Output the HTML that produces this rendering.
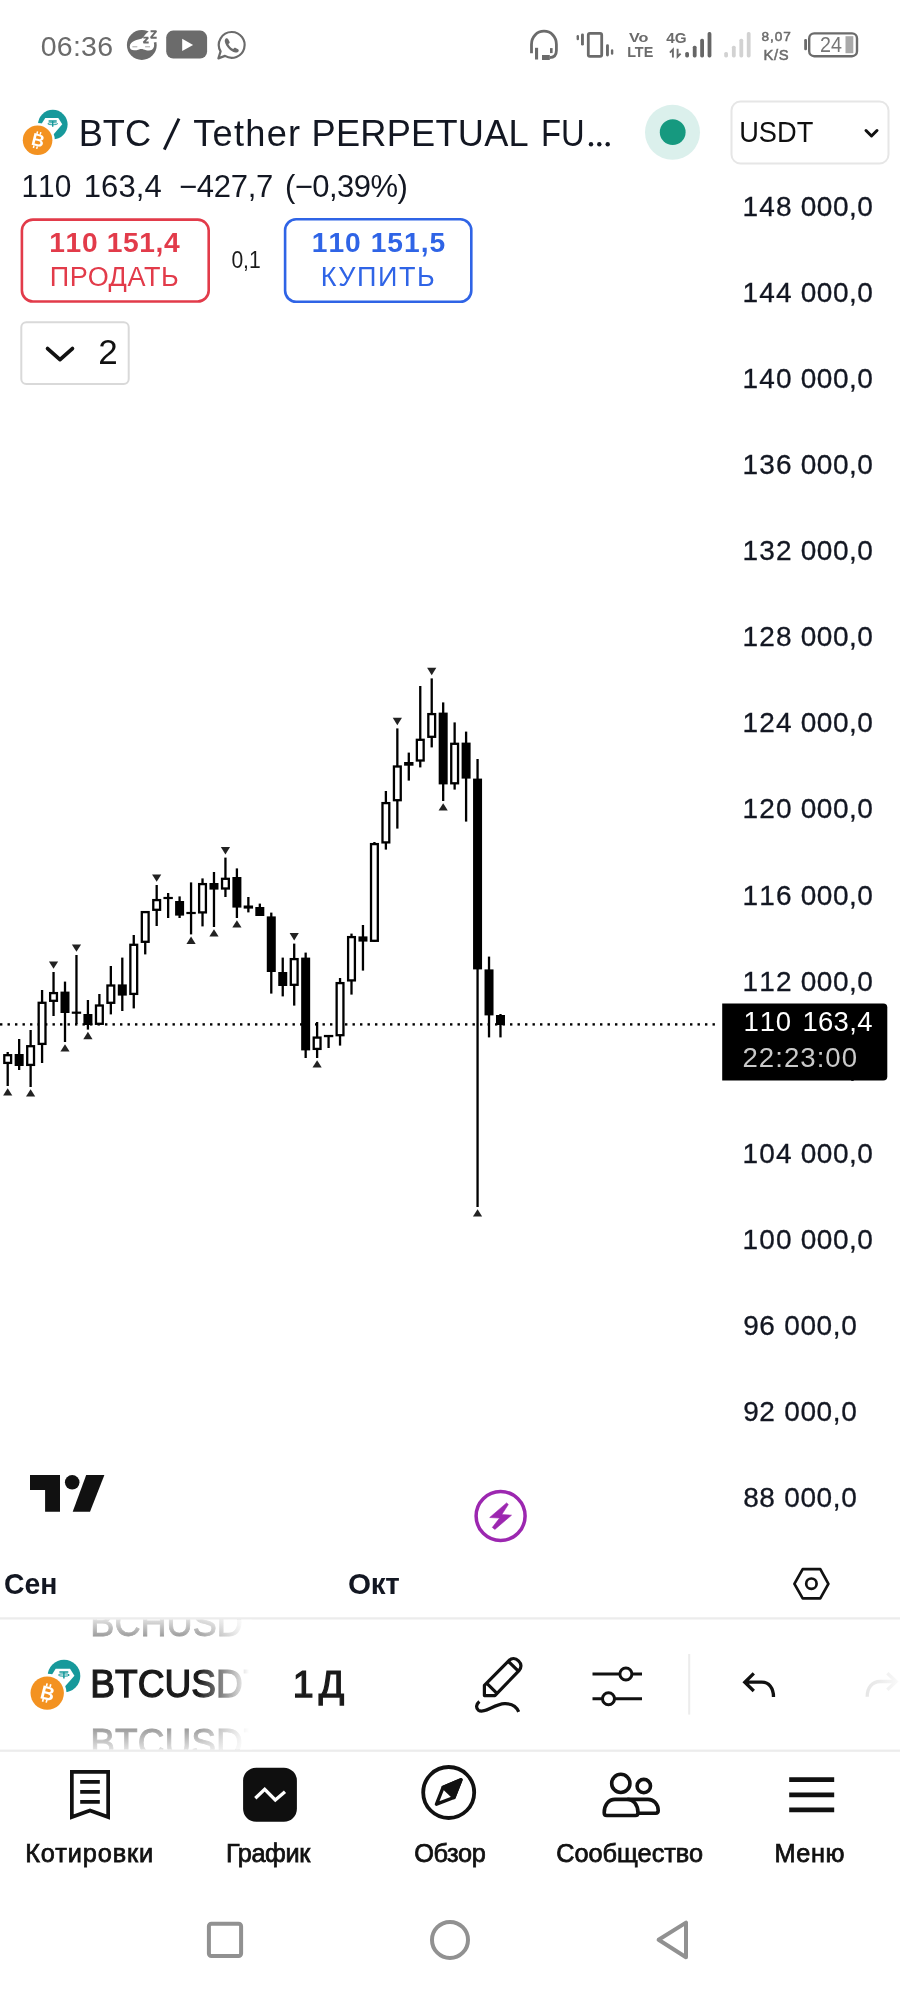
<!DOCTYPE html>
<html lang="ru"><head><meta charset="utf-8"><title>BTC / Tether PERPETUAL FUTURES</title>
<style>
html,body{margin:0;padding:0;background:#fff;}
body{width:900px;height:2000px;overflow:hidden;font-family:"Liberation Sans",sans-serif;}
svg{display:block;will-change:transform;font-family:"Liberation Sans",sans-serif;}
text{white-space:pre;}
</style></head><body>
<svg width="900" height="2000" viewBox="0 0 900 2000">
<rect x="0" y="0" width="900" height="2000" fill="#ffffff"/>
<text x="40.70" y="55.80" font-size="28.50" font-weight="400" fill="#6b6b6b" letter-spacing="0.258" style="font-kerning:none">06:36</text>
<g id="status-icons"></g>
<path d="M164.3 149.6 L179.0 118.6" stroke="#131722" stroke-width="3" fill="none"/>
<text x="78.70" y="145.70" font-size="36.20" font-weight="400" fill="#131722" letter-spacing="0.029">BTC</text>
<text x="193.30" y="145.70" font-size="36.20" font-weight="400" fill="#131722" letter-spacing="1.235">Tether</text>
<text x="311.50" y="145.70" font-size="36.20" font-weight="400" fill="#131722" letter-spacing="0.256">PERPETUAL</text>
<text x="540.99" y="145.70" font-size="36.20" font-weight="400" fill="#131722" textLength="43.64" lengthAdjust="spacingAndGlyphs">FU</text>
<g fill="#131722"><circle cx="591" cy="144.2" r="2.2"/><circle cx="599.3" cy="144.2" r="2.2"/><circle cx="607.7" cy="144.2" r="2.2"/></g>
<text x="21.48" y="197.00" font-size="31.00" font-weight="400" fill="#131722" textLength="49.76" lengthAdjust="spacingAndGlyphs" style="font-kerning:none">110</text>
<text x="83.70" y="197.00" font-size="31.00" font-weight="400" fill="#131722" letter-spacing="0.116" style="font-kerning:none">163,4</text>
<text x="179.00" y="197.00" font-size="31.00" font-weight="400" fill="#131722" letter-spacing="-0.288" style="font-kerning:none">−427,7</text>
<text x="285.00" y="197.00" font-size="31.00" font-weight="400" fill="#131722" letter-spacing="-0.561" style="font-kerning:none">(−0,39%)</text>
<circle cx="672.5" cy="132.3" r="27.5" fill="#dbf0ec"/>
<circle cx="672.7" cy="132.2" r="12.9" fill="#16997f"/>
<rect x="731.5" y="101.5" width="157" height="62" rx="9" fill="#fff" stroke="#e6e6e6" stroke-width="2"/>
<text x="739.19" y="141.60" font-size="30.00" font-weight="400" fill="#0f0f0f" textLength="74.11" lengthAdjust="spacingAndGlyphs">USDT</text>
<path d="M866 130.5 L871.5 136 L877 130.5" fill="none" stroke="#111" stroke-width="3" stroke-linecap="round" stroke-linejoin="round"/>
<rect x="21.9" y="219.6" width="186.8" height="81.9" rx="11" fill="#fff" stroke="#e23b4a" stroke-width="2.6"/>
<text x="49.30" y="252.20" font-size="28.20" font-weight="700" fill="#e23b4a" letter-spacing="0.622" style="font-kerning:none">110 151,4</text>
<text x="49.70" y="286.10" font-size="27.00" font-weight="400" fill="#e23b4a" letter-spacing="0.565">ПРОДАТЬ</text>
<text x="231.40" y="268.20" font-size="23.00" font-weight="400" fill="#1a1a1a" textLength="29.33" lengthAdjust="spacingAndGlyphs" style="font-kerning:none">0,1</text>
<rect x="285.1" y="219.3" width="186.2" height="82.4" rx="11" fill="#fff" stroke="#2f64e6" stroke-width="2.6"/>
<text x="311.70" y="252.30" font-size="28.20" font-weight="700" fill="#2f64e6" letter-spacing="1.022" style="font-kerning:none">110 151,5</text>
<text x="320.70" y="285.90" font-size="27.00" font-weight="400" fill="#2f64e6" letter-spacing="1.562">КУПИТЬ</text>
<rect x="21.3" y="322.3" width="107.4" height="61.7" rx="5" fill="#fff" stroke="#d9d9d9" stroke-width="2"/>
<path d="M47.6 348.6 L60 359.6 L72.4 348.6" fill="none" stroke="#111" stroke-width="3.8" stroke-linecap="round" stroke-linejoin="round"/>
<text x="98.20" y="364.20" font-size="35.00" font-weight="400" fill="#111" style="font-kerning:none">2</text>
<text x="742.40" y="215.95" font-size="28.00" font-weight="400" fill="#131722" letter-spacing="1.278" stroke="#131722" stroke-width="0.3" style="font-kerning:none">148</text>
<text x="800.80" y="215.95" font-size="28.00" font-weight="400" fill="#131722" letter-spacing="0.476" stroke="#131722" stroke-width="0.3" style="font-kerning:none">000,0</text>
<text x="742.40" y="302.02" font-size="28.00" font-weight="400" fill="#131722" letter-spacing="1.278" stroke="#131722" stroke-width="0.3" style="font-kerning:none">144</text>
<text x="800.80" y="302.02" font-size="28.00" font-weight="400" fill="#131722" letter-spacing="0.476" stroke="#131722" stroke-width="0.3" style="font-kerning:none">000,0</text>
<text x="742.40" y="388.09" font-size="28.00" font-weight="400" fill="#131722" letter-spacing="1.278" stroke="#131722" stroke-width="0.3" style="font-kerning:none">140</text>
<text x="800.80" y="388.09" font-size="28.00" font-weight="400" fill="#131722" letter-spacing="0.476" stroke="#131722" stroke-width="0.3" style="font-kerning:none">000,0</text>
<text x="742.40" y="474.16" font-size="28.00" font-weight="400" fill="#131722" letter-spacing="1.278" stroke="#131722" stroke-width="0.3" style="font-kerning:none">136</text>
<text x="800.80" y="474.16" font-size="28.00" font-weight="400" fill="#131722" letter-spacing="0.476" stroke="#131722" stroke-width="0.3" style="font-kerning:none">000,0</text>
<text x="742.40" y="560.23" font-size="28.00" font-weight="400" fill="#131722" letter-spacing="1.278" stroke="#131722" stroke-width="0.3" style="font-kerning:none">132</text>
<text x="800.80" y="560.23" font-size="28.00" font-weight="400" fill="#131722" letter-spacing="0.476" stroke="#131722" stroke-width="0.3" style="font-kerning:none">000,0</text>
<text x="742.40" y="646.30" font-size="28.00" font-weight="400" fill="#131722" letter-spacing="1.278" stroke="#131722" stroke-width="0.3" style="font-kerning:none">128</text>
<text x="800.80" y="646.30" font-size="28.00" font-weight="400" fill="#131722" letter-spacing="0.476" stroke="#131722" stroke-width="0.3" style="font-kerning:none">000,0</text>
<text x="742.40" y="732.37" font-size="28.00" font-weight="400" fill="#131722" letter-spacing="1.278" stroke="#131722" stroke-width="0.3" style="font-kerning:none">124</text>
<text x="800.80" y="732.37" font-size="28.00" font-weight="400" fill="#131722" letter-spacing="0.476" stroke="#131722" stroke-width="0.3" style="font-kerning:none">000,0</text>
<text x="742.40" y="818.44" font-size="28.00" font-weight="400" fill="#131722" letter-spacing="1.278" stroke="#131722" stroke-width="0.3" style="font-kerning:none">120</text>
<text x="800.80" y="818.44" font-size="28.00" font-weight="400" fill="#131722" letter-spacing="0.476" stroke="#131722" stroke-width="0.3" style="font-kerning:none">000,0</text>
<text x="742.40" y="904.51" font-size="28.00" font-weight="400" fill="#131722" letter-spacing="1.278" stroke="#131722" stroke-width="0.3" style="font-kerning:none">116</text>
<text x="800.80" y="904.51" font-size="28.00" font-weight="400" fill="#131722" letter-spacing="0.476" stroke="#131722" stroke-width="0.3" style="font-kerning:none">000,0</text>
<text x="742.40" y="990.58" font-size="28.00" font-weight="400" fill="#131722" letter-spacing="1.278" stroke="#131722" stroke-width="0.3" style="font-kerning:none">112</text>
<text x="800.80" y="990.58" font-size="28.00" font-weight="400" fill="#131722" letter-spacing="0.476" stroke="#131722" stroke-width="0.3" style="font-kerning:none">000,0</text>
<text x="742.40" y="1076.65" font-size="28.00" font-weight="400" fill="#131722" letter-spacing="1.278" stroke="#131722" stroke-width="0.3" style="font-kerning:none">108</text>
<text x="800.80" y="1076.65" font-size="28.00" font-weight="400" fill="#131722" letter-spacing="0.476" stroke="#131722" stroke-width="0.3" style="font-kerning:none">000,0</text>
<text x="742.40" y="1162.72" font-size="28.00" font-weight="400" fill="#131722" letter-spacing="1.278" stroke="#131722" stroke-width="0.3" style="font-kerning:none">104</text>
<text x="800.80" y="1162.72" font-size="28.00" font-weight="400" fill="#131722" letter-spacing="0.476" stroke="#131722" stroke-width="0.3" style="font-kerning:none">000,0</text>
<text x="742.40" y="1248.79" font-size="28.00" font-weight="400" fill="#131722" letter-spacing="1.278" stroke="#131722" stroke-width="0.3" style="font-kerning:none">100</text>
<text x="800.80" y="1248.79" font-size="28.00" font-weight="400" fill="#131722" letter-spacing="0.476" stroke="#131722" stroke-width="0.3" style="font-kerning:none">000,0</text>
<text x="743.20" y="1334.86" font-size="28.00" font-weight="400" fill="#131722" letter-spacing="0.428" stroke="#131722" stroke-width="0.3" style="font-kerning:none">96</text>
<text x="784.20" y="1334.86" font-size="28.00" font-weight="400" fill="#131722" letter-spacing="0.626" stroke="#131722" stroke-width="0.3" style="font-kerning:none">000,0</text>
<text x="743.20" y="1420.93" font-size="28.00" font-weight="400" fill="#131722" letter-spacing="0.428" stroke="#131722" stroke-width="0.3" style="font-kerning:none">92</text>
<text x="784.20" y="1420.93" font-size="28.00" font-weight="400" fill="#131722" letter-spacing="0.626" stroke="#131722" stroke-width="0.3" style="font-kerning:none">000,0</text>
<text x="743.20" y="1507.00" font-size="28.00" font-weight="400" fill="#131722" letter-spacing="0.428" stroke="#131722" stroke-width="0.3" style="font-kerning:none">88</text>
<text x="784.20" y="1507.00" font-size="28.00" font-weight="400" fill="#131722" letter-spacing="0.626" stroke="#131722" stroke-width="0.3" style="font-kerning:none">000,0</text>
<g fill="#000"><rect x="0.0" y="1023.2" width="2.4" height="2.4" /><rect x="7.5" y="1023.2" width="2.4" height="2.4" /><rect x="15.0" y="1023.2" width="2.4" height="2.4" /><rect x="22.5" y="1023.2" width="2.4" height="2.4" /><rect x="30.0" y="1023.2" width="2.4" height="2.4" /><rect x="37.5" y="1023.2" width="2.4" height="2.4" /><rect x="45.0" y="1023.2" width="2.4" height="2.4" /><rect x="52.5" y="1023.2" width="2.4" height="2.4" /><rect x="60.0" y="1023.2" width="2.4" height="2.4" /><rect x="67.5" y="1023.2" width="2.4" height="2.4" /><rect x="75.0" y="1023.2" width="2.4" height="2.4" /><rect x="82.5" y="1023.2" width="2.4" height="2.4" /><rect x="90.0" y="1023.2" width="2.4" height="2.4" /><rect x="97.5" y="1023.2" width="2.4" height="2.4" /><rect x="105.0" y="1023.2" width="2.4" height="2.4" /><rect x="112.5" y="1023.2" width="2.4" height="2.4" /><rect x="120.0" y="1023.2" width="2.4" height="2.4" /><rect x="127.5" y="1023.2" width="2.4" height="2.4" /><rect x="135.0" y="1023.2" width="2.4" height="2.4" /><rect x="142.5" y="1023.2" width="2.4" height="2.4" /><rect x="150.0" y="1023.2" width="2.4" height="2.4" /><rect x="157.5" y="1023.2" width="2.4" height="2.4" /><rect x="165.0" y="1023.2" width="2.4" height="2.4" /><rect x="172.5" y="1023.2" width="2.4" height="2.4" /><rect x="180.0" y="1023.2" width="2.4" height="2.4" /><rect x="187.5" y="1023.2" width="2.4" height="2.4" /><rect x="195.0" y="1023.2" width="2.4" height="2.4" /><rect x="202.5" y="1023.2" width="2.4" height="2.4" /><rect x="210.0" y="1023.2" width="2.4" height="2.4" /><rect x="217.5" y="1023.2" width="2.4" height="2.4" /><rect x="225.0" y="1023.2" width="2.4" height="2.4" /><rect x="232.5" y="1023.2" width="2.4" height="2.4" /><rect x="240.0" y="1023.2" width="2.4" height="2.4" /><rect x="247.5" y="1023.2" width="2.4" height="2.4" /><rect x="255.0" y="1023.2" width="2.4" height="2.4" /><rect x="262.5" y="1023.2" width="2.4" height="2.4" /><rect x="270.0" y="1023.2" width="2.4" height="2.4" /><rect x="277.5" y="1023.2" width="2.4" height="2.4" /><rect x="285.0" y="1023.2" width="2.4" height="2.4" /><rect x="292.5" y="1023.2" width="2.4" height="2.4" /><rect x="300.0" y="1023.2" width="2.4" height="2.4" /><rect x="307.5" y="1023.2" width="2.4" height="2.4" /><rect x="315.0" y="1023.2" width="2.4" height="2.4" /><rect x="322.5" y="1023.2" width="2.4" height="2.4" /><rect x="330.0" y="1023.2" width="2.4" height="2.4" /><rect x="337.5" y="1023.2" width="2.4" height="2.4" /><rect x="345.0" y="1023.2" width="2.4" height="2.4" /><rect x="352.5" y="1023.2" width="2.4" height="2.4" /><rect x="360.0" y="1023.2" width="2.4" height="2.4" /><rect x="367.5" y="1023.2" width="2.4" height="2.4" /><rect x="375.0" y="1023.2" width="2.4" height="2.4" /><rect x="382.5" y="1023.2" width="2.4" height="2.4" /><rect x="390.0" y="1023.2" width="2.4" height="2.4" /><rect x="397.5" y="1023.2" width="2.4" height="2.4" /><rect x="405.0" y="1023.2" width="2.4" height="2.4" /><rect x="412.5" y="1023.2" width="2.4" height="2.4" /><rect x="420.0" y="1023.2" width="2.4" height="2.4" /><rect x="427.5" y="1023.2" width="2.4" height="2.4" /><rect x="435.0" y="1023.2" width="2.4" height="2.4" /><rect x="442.5" y="1023.2" width="2.4" height="2.4" /><rect x="450.0" y="1023.2" width="2.4" height="2.4" /><rect x="457.5" y="1023.2" width="2.4" height="2.4" /><rect x="465.0" y="1023.2" width="2.4" height="2.4" /><rect x="472.5" y="1023.2" width="2.4" height="2.4" /><rect x="480.0" y="1023.2" width="2.4" height="2.4" /><rect x="487.5" y="1023.2" width="2.4" height="2.4" /><rect x="495.0" y="1023.2" width="2.4" height="2.4" /><rect x="502.5" y="1023.2" width="2.4" height="2.4" /><rect x="510.0" y="1023.2" width="2.4" height="2.4" /><rect x="517.5" y="1023.2" width="2.4" height="2.4" /><rect x="525.0" y="1023.2" width="2.4" height="2.4" /><rect x="532.5" y="1023.2" width="2.4" height="2.4" /><rect x="540.0" y="1023.2" width="2.4" height="2.4" /><rect x="547.5" y="1023.2" width="2.4" height="2.4" /><rect x="555.0" y="1023.2" width="2.4" height="2.4" /><rect x="562.5" y="1023.2" width="2.4" height="2.4" /><rect x="570.0" y="1023.2" width="2.4" height="2.4" /><rect x="577.5" y="1023.2" width="2.4" height="2.4" /><rect x="585.0" y="1023.2" width="2.4" height="2.4" /><rect x="592.5" y="1023.2" width="2.4" height="2.4" /><rect x="600.0" y="1023.2" width="2.4" height="2.4" /><rect x="607.5" y="1023.2" width="2.4" height="2.4" /><rect x="615.0" y="1023.2" width="2.4" height="2.4" /><rect x="622.5" y="1023.2" width="2.4" height="2.4" /><rect x="630.0" y="1023.2" width="2.4" height="2.4" /><rect x="637.5" y="1023.2" width="2.4" height="2.4" /><rect x="645.0" y="1023.2" width="2.4" height="2.4" /><rect x="652.5" y="1023.2" width="2.4" height="2.4" /><rect x="660.0" y="1023.2" width="2.4" height="2.4" /><rect x="667.5" y="1023.2" width="2.4" height="2.4" /><rect x="675.0" y="1023.2" width="2.4" height="2.4" /><rect x="682.5" y="1023.2" width="2.4" height="2.4" /><rect x="690.0" y="1023.2" width="2.4" height="2.4" /><rect x="697.5" y="1023.2" width="2.4" height="2.4" /><rect x="705.0" y="1023.2" width="2.4" height="2.4" /><rect x="712.5" y="1023.2" width="2.4" height="2.4" /></g>
<g id="candles"><rect x="6.55" y="1052.0" width="2.3" height="34.0" fill="#000"/><rect x="4.30" y="1055.2" width="6.8" height="7.7" fill="#fff" stroke="#000" stroke-width="2.3"/><path d="M7.70 1088.2 L12.30 1095.6 L3.10 1095.6 Z" fill="#222"/><rect x="18.01" y="1039.0" width="2.3" height="31.0" fill="#000"/><rect x="14.66" y="1054.0" width="9" height="12.0" fill="#000"/><rect x="29.47" y="1030.0" width="2.3" height="57.0" fill="#000"/><rect x="27.22" y="1046.2" width="6.8" height="18.7" fill="#fff" stroke="#000" stroke-width="2.3"/><path d="M30.62 1089.2 L35.22 1096.6 L26.02 1096.6 Z" fill="#222"/><rect x="40.93" y="990.0" width="2.3" height="73.0" fill="#000"/><rect x="38.68" y="1002.8" width="6.8" height="41.1" fill="#fff" stroke="#000" stroke-width="2.3"/><rect x="52.39" y="972.0" width="2.3" height="44.0" fill="#000"/><rect x="50.14" y="993.1" width="6.8" height="7.7" fill="#fff" stroke="#000" stroke-width="2.3"/><path d="M53.54 968.8 L58.14 961.4 L48.94 961.4 Z" fill="#222"/><rect x="63.85" y="981.6" width="2.3" height="60.4" fill="#000"/><rect x="60.50" y="991.6" width="9" height="21.4" fill="#000"/><path d="M65.00 1044.2 L69.60 1051.6 L60.40 1051.6 Z" fill="#222"/><rect x="75.31" y="955.0" width="2.3" height="69.0" fill="#000"/><rect x="71.76" y="1011.6" width="9.4" height="2.2" fill="#000"/><path d="M76.46 951.8 L81.06 944.4 L71.86 944.4 Z" fill="#222"/><rect x="86.77" y="1000.0" width="2.3" height="29.6" fill="#000"/><rect x="83.42" y="1014.0" width="9" height="11.0" fill="#000"/><path d="M87.92 1031.8 L92.52 1039.2 L83.32 1039.2 Z" fill="#222"/><rect x="98.23" y="994.0" width="2.3" height="31.0" fill="#000"/><rect x="95.98" y="1005.5" width="6.8" height="18.3" fill="#fff" stroke="#000" stroke-width="2.3"/><rect x="109.69" y="966.0" width="2.3" height="48.4" fill="#000"/><rect x="107.44" y="985.5" width="6.8" height="17.3" fill="#fff" stroke="#000" stroke-width="2.3"/><rect x="121.15" y="957.6" width="2.3" height="53.4" fill="#000"/><rect x="117.80" y="984.4" width="9" height="11.2" fill="#000"/><rect x="132.61" y="935.0" width="2.3" height="73.4" fill="#000"/><rect x="130.36" y="944.8" width="6.8" height="49.1" fill="#fff" stroke="#000" stroke-width="2.3"/><rect x="144.07" y="911.0" width="2.3" height="43.4" fill="#000"/><rect x="141.82" y="912.1" width="6.8" height="29.7" fill="#fff" stroke="#000" stroke-width="2.3"/><rect x="155.53" y="885.0" width="2.3" height="41.0" fill="#000"/><rect x="153.28" y="900.1" width="6.8" height="9.7" fill="#fff" stroke="#000" stroke-width="2.3"/><path d="M156.68 881.8 L161.28 874.4 L152.08 874.4 Z" fill="#222"/><rect x="166.99" y="893.0" width="2.3" height="25.0" fill="#000"/><rect x="163.44" y="896.9" width="9.4" height="2.2" fill="#000"/><rect x="178.45" y="896.4" width="2.3" height="21.6" fill="#000"/><rect x="175.10" y="901.0" width="9" height="14.6" fill="#000"/><rect x="189.91" y="882.4" width="2.3" height="52.0" fill="#000"/><rect x="186.36" y="911.9" width="9.4" height="2.2" fill="#000"/><path d="M191.06 936.6 L195.66 944.0 L186.46 944.0 Z" fill="#222"/><rect x="201.37" y="878.4" width="2.3" height="48.0" fill="#000"/><rect x="199.12" y="884.1" width="6.8" height="28.3" fill="#fff" stroke="#000" stroke-width="2.3"/><rect x="212.83" y="872.0" width="2.3" height="55.0" fill="#000"/><rect x="209.48" y="883.0" width="9" height="6.6" fill="#000"/><path d="M213.98 929.2 L218.58 936.6 L209.38 936.6 Z" fill="#222"/><rect x="224.29" y="857.6" width="2.3" height="39.4" fill="#000"/><rect x="222.04" y="878.8" width="6.8" height="9.7" fill="#fff" stroke="#000" stroke-width="2.3"/><path d="M225.44 854.4 L230.04 847.0 L220.84 847.0 Z" fill="#222"/><rect x="235.75" y="868.4" width="2.3" height="49.6" fill="#000"/><rect x="232.40" y="877.0" width="9" height="30.6" fill="#000"/><path d="M236.90 920.2 L241.50 927.6 L232.30 927.6 Z" fill="#222"/><rect x="247.21" y="897.0" width="2.3" height="15.4" fill="#000"/><rect x="243.66" y="905.5" width="9.4" height="3.1" fill="#000"/><rect x="258.67" y="903.6" width="2.3" height="12.4" fill="#000"/><rect x="255.32" y="907.0" width="9" height="9.0" fill="#000"/><rect x="270.13" y="912.6" width="2.3" height="81.0" fill="#000"/><rect x="266.78" y="916.4" width="9" height="55.6" fill="#000"/><rect x="281.59" y="957.6" width="2.3" height="38.8" fill="#000"/><rect x="278.24" y="972.0" width="9" height="14.0" fill="#000"/><rect x="293.05" y="943.6" width="2.3" height="62.0" fill="#000"/><rect x="290.80" y="959.1" width="6.8" height="25.7" fill="#fff" stroke="#000" stroke-width="2.3"/><path d="M294.20 940.4 L298.80 933.0 L289.60 933.0 Z" fill="#222"/><rect x="304.51" y="952.6" width="2.3" height="105.4" fill="#000"/><rect x="301.16" y="957.6" width="9" height="92.8" fill="#000"/><rect x="315.97" y="1022.0" width="2.3" height="36.0" fill="#000"/><rect x="313.72" y="1037.6" width="6.8" height="11.3" fill="#fff" stroke="#000" stroke-width="2.3"/><path d="M317.12 1060.2 L321.72 1067.6 L312.52 1067.6 Z" fill="#222"/><rect x="327.43" y="1035.0" width="2.3" height="13.0" fill="#000"/><rect x="323.88" y="1034.9" width="9.4" height="2.3" fill="#000"/><rect x="338.89" y="978.0" width="2.3" height="67.6" fill="#000"/><rect x="336.64" y="983.1" width="6.8" height="52.1" fill="#fff" stroke="#000" stroke-width="2.3"/><rect x="350.35" y="933.6" width="2.3" height="61.0" fill="#000"/><rect x="348.10" y="937.1" width="6.8" height="43.3" fill="#fff" stroke="#000" stroke-width="2.3"/><rect x="361.81" y="925.0" width="2.3" height="45.6" fill="#000"/><rect x="358.46" y="936.4" width="9" height="5.2" fill="#000"/><rect x="373.27" y="842.0" width="2.3" height="100.0" fill="#000"/><rect x="371.02" y="844.1" width="6.8" height="96.7" fill="#fff" stroke="#000" stroke-width="2.3"/><rect x="384.73" y="791.0" width="2.3" height="58.6" fill="#000"/><rect x="382.48" y="803.1" width="6.8" height="39.3" fill="#fff" stroke="#000" stroke-width="2.3"/><rect x="396.19" y="728.4" width="2.3" height="100.2" fill="#000"/><rect x="393.94" y="766.5" width="6.8" height="33.7" fill="#fff" stroke="#000" stroke-width="2.3"/><path d="M397.34 725.2 L401.94 717.8 L392.74 717.8 Z" fill="#222"/><rect x="407.65" y="752.6" width="2.3" height="28.0" fill="#000"/><rect x="404.10" y="762.0" width="9.4" height="3.7" fill="#000"/><rect x="419.11" y="686.0" width="2.3" height="81.4" fill="#000"/><rect x="416.86" y="739.8" width="6.8" height="20.7" fill="#fff" stroke="#000" stroke-width="2.3"/><rect x="430.57" y="678.4" width="2.3" height="69.0" fill="#000"/><rect x="428.32" y="714.1" width="6.8" height="22.7" fill="#fff" stroke="#000" stroke-width="2.3"/><path d="M431.72 675.2 L436.32 667.8 L427.12 667.8 Z" fill="#222"/><rect x="442.03" y="702.4" width="2.3" height="98.6" fill="#000"/><rect x="438.68" y="712.6" width="9" height="71.8" fill="#000"/><path d="M443.18 803.2 L447.78 810.6 L438.58 810.6 Z" fill="#222"/><rect x="453.49" y="722.4" width="2.3" height="67.2" fill="#000"/><rect x="451.24" y="743.8" width="6.8" height="39.5" fill="#fff" stroke="#000" stroke-width="2.3"/><rect x="464.95" y="731.6" width="2.3" height="90.0" fill="#000"/><rect x="461.60" y="742.6" width="9" height="36.0" fill="#000"/><rect x="476.41" y="759.0" width="2.3" height="448.0" fill="#000"/><rect x="473.06" y="778.6" width="9" height="190.8" fill="#000"/><path d="M477.56 1209.2 L482.16 1216.6 L472.96 1216.6 Z" fill="#222"/><rect x="487.87" y="956.6" width="2.3" height="80.8" fill="#000"/><rect x="484.52" y="969.4" width="9" height="46.0" fill="#000"/><rect x="499.33" y="1014.0" width="2.3" height="23.4" fill="#000"/><rect x="495.98" y="1015.0" width="9" height="10.0" fill="#000"/></g>
<text x="742.40" y="1076.65" font-size="28.00" font-weight="400" fill="#131722" letter-spacing="1.278" stroke="#131722" stroke-width="0.3" style="font-kerning:none">108</text>
<text x="800.80" y="1076.65" font-size="28.00" font-weight="400" fill="#131722" letter-spacing="0.476" stroke="#131722" stroke-width="0.3" style="font-kerning:none">000,0</text>
<path d="M722.2 1003.4 H883.3 a4 4 0 0 1 4 4 V1076.4 a4 4 0 0 1 -4 4 H722.2 Z" fill="#000"/>
<text x="743.60" y="1031.00" font-size="27.50" font-weight="400" fill="#ffffff" letter-spacing="0.756" style="font-kerning:none">110</text>
<text x="802.40" y="1031.00" font-size="27.50" font-weight="400" fill="#ffffff" letter-spacing="0.319" style="font-kerning:none">163,4</text>
<text x="742.50" y="1067.10" font-size="27.60" font-weight="400" fill="#c9c9c9" letter-spacing="1.019" style="font-kerning:none">22:23:00</text>
<g fill="#111"><path d="M30 1475.1 H60 V1511.8 H45.1 V1490 H30 Z"/><circle cx="72.2" cy="1482.3" r="7.3"/><path d="M86.2 1475.1 H104.4 L90 1511.8 H72.7 Z"/></g>
<circle cx="500.6" cy="1516" r="24.5" fill="none" stroke="#9c27b0" stroke-width="3.5"/>
<path d="M506.6 1502.9 L508.3 1504.5 L501.8 1514.6 L511.5 1515.2 L494.9 1529.4 L492.3 1527.4 L499.6 1518.1 L489.7 1517.5 Z" fill="#9c27b0" stroke="#9c27b0" stroke-width="0.6" stroke-linejoin="round"/>
<text x="3.94" y="1593.80" font-size="29.60" font-weight="700" fill="#131722" textLength="53.46" lengthAdjust="spacingAndGlyphs">Сен</text>
<text x="348.00" y="1593.80" font-size="29.60" font-weight="700" fill="#131722" letter-spacing="-0.265">Окт</text>
<g fill="none" stroke="#111" stroke-width="2.7" stroke-linejoin="round"><path d="M794.4 1583.8 L802.7 1569.2 H820.3 L828.4 1583.8 L820.3 1598.4 H802.7 Z"/><circle cx="811.4" cy="1583.7" r="5.2"/></g>
<rect x="0" y="1617.3" width="900" height="2.2" fill="#ececec"/>
<rect x="0" y="1749.6" width="900" height="2.2" fill="#ececec"/>
<rect x="688.2" y="1654" width="2" height="60.6" fill="#ececec"/>
<defs>
<linearGradient id="fadeR" x1="0" x2="1" y1="0" y2="0" gradientUnits="objectBoundingBox"><stop offset="0" stop-color="#fff"/><stop offset="1" stop-color="#000"/></linearGradient>
<linearGradient id="gTop" x1="0" y1="1617" x2="0" y2="1637" gradientUnits="userSpaceOnUse"><stop offset="0" stop-color="#e9e9e9"/><stop offset="1" stop-color="#9a9a9a"/></linearGradient>
<linearGradient id="gBot" x1="0" y1="1728" x2="0" y2="1752" gradientUnits="userSpaceOnUse"><stop offset="0" stop-color="#9a9a9a"/><stop offset="1" stop-color="#e9e9e9"/></linearGradient>
<linearGradient id="wR" x1="198" y1="0" x2="249" y2="0" gradientUnits="userSpaceOnUse"><stop offset="0" stop-color="#fff" stop-opacity="0"/><stop offset="1" stop-color="#fff" stop-opacity="1"/></linearGradient>
<clipPath id="wheel"><rect x="0" y="1619.5" width="252" height="130"/></clipPath>
</defs>
<g clip-path="url(#wheel)">
<text x="90.32" y="1635.80" font-size="39.00" font-weight="400" fill="url(#gTop)" stroke="url(#gTop)" stroke-width="0.8" textLength="152.56" lengthAdjust="spacingAndGlyphs">BCHUSD</text>
<text x="90.24" y="1697.20" font-size="39.00" font-weight="400" fill="#1a1a1a" stroke="#1a1a1a" stroke-width="1.25" textLength="152.67" lengthAdjust="spacingAndGlyphs">BTCUSD</text>
<text x="243.40" y="1697.20" font-size="39.00" font-weight="400" fill="#1a1a1a" stroke="#1a1a1a" stroke-width="1.25" textLength="21.75" lengthAdjust="spacingAndGlyphs">T</text>
<text x="90.24" y="1756.40" font-size="39.00" font-weight="400" fill="url(#gBot)" stroke="url(#gBot)" stroke-width="0.8" textLength="152.67" lengthAdjust="spacingAndGlyphs">BTCUSD</text>
<text x="243.40" y="1756.40" font-size="39.00" font-weight="400" fill="url(#gBot)" stroke="url(#gBot)" stroke-width="0.8" textLength="21.75" lengthAdjust="spacingAndGlyphs">T</text>
<rect x="195" y="1619.5" width="60" height="130" fill="url(#wR)"/>
</g>
<text x="292.70" y="1697.20" font-size="37.60" font-weight="400" fill="#1a1a1a" letter-spacing="5.201" stroke="#1a1a1a" stroke-width="1.25" style="font-kerning:none">1Д</text>
<g fill="none" stroke="#111" stroke-width="3.2" stroke-linejoin="round" stroke-linecap="butt"><path d="M484.4 1695.6 V1685.4 L508.9 1660.6 C511.5 1658 515.5 1658 518.5 1660.8 C521.5 1663.6 521.8 1667.6 519 1670.6 L494.9 1695.6 Z"/><path d="M486.6 1683.2 L497.2 1693.6 M508.9 1662 L518.4 1671.2"/><path d="M479.4 1701.4 C476.2 1704 475.6 1708 478.4 1710.2 C484 1714.2 494 1704.2 504.5 1703.7 C511.5 1703.4 516.5 1706.4 518.7 1711.9"/></g>
<g fill="#fff" stroke="#111" stroke-width="3"><path d="M592.5 1674 H642 M592.5 1698.8 H642"/><circle cx="625.9" cy="1674" r="6"/><circle cx="608.5" cy="1698.8" r="6"/></g>
<path d="M753.8 1673.4 L744.8 1682.2 L753.8 1691 M745.2 1682.2 H762 C769 1682.2 773.5 1688 773.5 1696.9" fill="none" stroke="#111" stroke-width="3.3" stroke-linejoin="miter"/>
<defs><linearGradient id="gRedo" x1="866" y1="0" x2="898" y2="0" gradientUnits="userSpaceOnUse"><stop offset="0" stop-color="#e6e6e6"/><stop offset="0.45" stop-color="#ececec"/><stop offset="1" stop-color="#f9f9f9"/></linearGradient></defs>
<path d="M887.4 1673.2 L896.2 1681.5 L887.4 1689.8 M895.8 1681.5 H880 C872.4 1681.5 867.2 1687.4 867.2 1696.7" fill="none" stroke="url(#gRedo)" stroke-width="3.3"/>
<g fill="none" stroke="#111" stroke-width="3.7" stroke-miterlimit="10"><path d="M71.85 1771.95 H108.15 V1817.1 L90 1810.5 L71.85 1817.1 Z"/><path d="M80.2 1781.8 H99.8 M80.2 1791.9 H99.8 M80.2 1801.9 H99.8"/></g>
<rect x="243.1" y="1767.8" width="53.8" height="53.9" rx="13" fill="#0f0f0f"/>
<path d="M255.3 1798.3 L264.7 1789.4 L275.3 1800 L285 1791.7" fill="none" stroke="#fff" stroke-width="3.3"/>
<circle cx="448.7" cy="1792.5" r="25.5" fill="none" stroke="#111" stroke-width="3.8"/>
<path d="M460.9 1779.8 L443.2 1787.2 L436.5 1804.2 L453.9 1797.5 Z" fill="#fff" stroke="#111" stroke-width="3.4" stroke-linejoin="round"/>
<path d="M460.9 1779.8 L443.2 1787.2 L453.9 1797.5 Z" fill="#111" stroke="#111" stroke-width="3.4" stroke-linejoin="round"/>
<g fill="#fff" stroke="#111" stroke-width="3.6" stroke-linejoin="round"><circle cx="643.8" cy="1786.1" r="6.7"/><path d="M628 1799.4 H648 C654 1799.4 658.2 1804.4 658.2 1810.6 C658.2 1812.4 657.4 1813.2 655.8 1813.2 H628 Z"/><circle cx="620.8" cy="1783.4" r="9.1"/><path d="M606.8 1815.5 C605 1815.5 604.2 1814.6 604.2 1812.8 C604.2 1804.8 608.6 1799.4 615 1799.4 H627 C633.6 1799.4 638 1804.8 638 1812.8 C638 1814.6 637.2 1815.5 635.4 1815.5 Z"/></g>
<path d="M789.2 1779.7 H834.2 M789.2 1794.8 H834.2 M789.2 1809.9 H834.2" fill="none" stroke="#111" stroke-width="4.8"/>
<text x="25.20" y="1862.00" font-size="25.30" font-weight="400" fill="#111" letter-spacing="0.899" stroke="#111" stroke-width="0.75">Котировки</text>
<text x="226.00" y="1862.00" font-size="25.30" font-weight="400" fill="#111" letter-spacing="-0.432" stroke="#111" stroke-width="0.75">График</text>
<text x="414.20" y="1862.00" font-size="25.30" font-weight="400" fill="#111" letter-spacing="-0.348" stroke="#111" stroke-width="0.75">Обзор</text>
<text x="556.20" y="1862.00" font-size="25.30" font-weight="400" fill="#111" letter-spacing="-0.009" stroke="#111" stroke-width="0.75">Сообщество</text>
<text x="774.40" y="1862.00" font-size="25.30" font-weight="400" fill="#111" letter-spacing="0.568" stroke="#111" stroke-width="0.75">Меню</text>
<rect x="208.9" y="1923.7" width="32.2" height="32.3" rx="2.5" fill="none" stroke="#919191" stroke-width="4"/>
<circle cx="450" cy="1939.9" r="18" fill="none" stroke="#919191" stroke-width="4"/>
<path d="M658.6 1939.8 L686 1922.6 V1957.2 Z" fill="none" stroke="#919191" stroke-width="4" stroke-linejoin="round"/>
<g><circle cx="141.8" cy="45" r="14.9" fill="#6b6b6b"/><path d="M129.8 46.5 C129.8 43.6 132 41.6 134.6 40.7 C137 39.6 139.8 38.9 142 38.4 C143.6 37.2 145 33.8 148.7 31.4 L158 28 V41.8 L153.8 42.6 C154.6 45.2 154.2 48.2 152 49.8 C149.4 51 146 50.2 143.6 49.4 C142 48.9 140.6 48.9 139 49.4 C136 50.4 133 50.8 131 49.6 C129.9 48.6 129.8 47.2 129.8 46 Z" fill="#fff"/><path d="M132.4 46.8 H137.3 M145.1 46.8 H150" stroke="#999" stroke-width="0.9" fill="none"/><path d="M143.3 37.7 H148.2 L143.5 42.5 H148.7" fill="none" stroke="#6b6b6b" stroke-width="1.8" stroke-linejoin="bevel"/><path d="M150.6 31.2 H156.3 L150.8 37.7 H156.7" fill="none" stroke="#6b6b6b" stroke-width="1.9" stroke-linejoin="bevel"/></g>
<rect x="166.2" y="30.6" width="40.9" height="28" rx="7" fill="#6b6b6b"/><path d="M182.2 38.7 V51.1 L193.1 44.9 Z" fill="#fff"/>
<g><path d="M231.8 32 A12.9 12.9 0 1 1 225 55.9 L218.4 58.4 L220.6 51.4 A12.9 12.9 0 0 1 231.8 32 Z" fill="none" stroke="#6b6b6b" stroke-width="2.2" stroke-linejoin="round"/><path transform="translate(-1.1 0.7)" d="M227.3 37.6 C226.2 38.2 225.6 39.6 226 41.2 C227.2 46 231.4 50.4 236.4 51.8 C237.8 52.2 239.2 51.4 239.8 50.2 C240 49.6 239.8 49 239.2 48.6 L236.8 47.2 C236.2 46.8 235.6 47 235.2 47.4 L234.4 48.4 C232.4 47.6 230.2 45.4 229.4 43.4 L230.4 42.6 C230.8 42.2 231 41.6 230.6 41 L229.2 38.4 C228.8 37.6 228 37.3 227.3 37.6 Z" fill="#6b6b6b"/></g>
<g fill="none" stroke="#6b6b6b" stroke-width="2.8"><path d="M531.5 53.2 V44.4 C531.5 36.8 537 31.2 544 31.2 C551 31.2 556.4 36.8 556.4 44.4 V50.6 C556.4 55 553.8 57.6 549.6 57.6"/></g><rect x="535" y="47.8" width="3.1" height="11.7" fill="#6b6b6b"/><rect x="550" y="48.1" width="2.6" height="5" fill="#6b6b6b"/><rect x="542" y="55" width="7.8" height="5" fill="#6b6b6b"/>
<rect x="588.3" y="33.4" width="13.4" height="23" rx="1.6" fill="none" stroke="#6b6b6b" stroke-width="2.8"/>
<g fill="#6b6b6b"><rect x="576.6" y="35.1" width="2.4" height="5.2" rx="1.2"/><rect x="581" y="33.4" width="2.9" height="12.2" rx="1.4"/><rect x="606" y="44.2" width="2.9" height="12.2" rx="1.4"/><rect x="610.9" y="49.2" width="2.4" height="5.6" rx="1.2"/></g>
<text x="628.90" y="41.80" font-size="13.20" font-weight="700" fill="#6b6b6b" textLength="19.47" lengthAdjust="spacingAndGlyphs">Vo</text>
<text x="627.17" y="57.30" font-size="15.40" font-weight="700" fill="#6b6b6b" textLength="26.08" lengthAdjust="spacingAndGlyphs">LTE</text>
<text x="666.20" y="43.30" font-size="14.70" font-weight="700" fill="#6b6b6b" textLength="20.34" lengthAdjust="spacingAndGlyphs" style="font-kerning:none">4G</text>
<g fill="none" stroke="#6b6b6b" stroke-width="1.9"><path d="M672.9 57.4 V49.6 L669.9 52.6 M677.6 48.8 V56.6 L680.6 53.6"/></g>
<rect x="685.2" y="51.9" width="3.8" height="5.5" rx="1.6" fill="#666"/><rect x="692.8" y="45.7" width="3.8" height="11.7" rx="1.6" fill="#666"/><rect x="700.2" y="38.7" width="3.8" height="18.7" rx="1.6" fill="#666"/><rect x="707.6" y="32.1" width="3.8" height="25.3" rx="1.6" fill="#666"/>
<rect x="724.2" y="51.9" width="3.8" height="5.5" rx="1.6" fill="#d2d2d2"/><rect x="731.9" y="45.7" width="3.8" height="11.7" rx="1.6" fill="#d2d2d2"/><rect x="739.4" y="38.7" width="3.8" height="18.7" rx="1.6" fill="#d2d2d2"/><rect x="746.8" y="32.1" width="3.8" height="25.3" rx="1.6" fill="#d2d2d2"/>
<text x="761.50" y="41.00" font-size="13.60" font-weight="400" fill="#6b6b6b" letter-spacing="0.968" stroke="#6b6b6b" stroke-width="0.5" style="font-kerning:none">8,07</text>
<text x="763.60" y="59.70" font-size="14.80" font-weight="400" fill="#6b6b6b" letter-spacing="0.560" stroke="#6b6b6b" stroke-width="0.5">K/S</text>
<rect x="809.2" y="33.4" width="47.8" height="22.8" rx="5" fill="none" stroke="#6b6b6b" stroke-width="2.4"/>
<rect x="804.2" y="39" width="2.8" height="11.2" rx="1.2" fill="#6b6b6b"/>
<rect x="845.5" y="36.2" width="7.8" height="17" fill="#a9a9a9"/>
<text x="820.09" y="52.30" font-size="21.60" font-weight="400" fill="#777" textLength="21.92" lengthAdjust="spacingAndGlyphs" style="font-kerning:none">24</text>
<g><circle cx="52.80" cy="124.60" r="14.80" fill="#17999b"/><path d="M45.25 117.94 L58.28 117.94 L62.27 124.30 L53.24 134.66 L41.26 124.30 Z" fill="#fff"/><g stroke="#17999b" fill="none" stroke-width="1.40"><path d="M48.60 121.00 H56.70 M52.70 121.00 V126.80"/><ellipse cx="52.70" cy="123.70" rx="4.90" ry="1.10" stroke-width="0.90"/></g><circle cx="37.60" cy="140.20" r="17.20" fill="#fff"/><circle cx="37.60" cy="140.20" r="14.80" fill="#f39221"/><g transform="rotate(14 37.60 140.20)"><text x="38.00" y="146.20" font-size="17.50" font-weight="700" fill="#fff" text-anchor="middle">B</text><path d="M35.40 134.20 v-2.60 M38.80 134.20 v-2.60 M35.40 146.20 v2.60 M38.80 146.20 v2.60" stroke="#fff" stroke-width="1.50" fill="none"/></g></g>
<g><circle cx="64.00" cy="1676.00" r="16.30" fill="#17999b"/><path d="M55.69 1668.66 L70.03 1668.66 L74.43 1675.67 L64.49 1687.08 L51.29 1675.67 Z" fill="#fff"/><g stroke="#17999b" fill="none" stroke-width="1.54"><path d="M59.37 1672.04 H68.30 M63.89 1672.04 V1678.42"/><ellipse cx="63.89" cy="1675.01" rx="5.40" ry="1.21" stroke-width="0.99"/></g><circle cx="47.20" cy="1693.10" r="19.34" fill="#fff"/><circle cx="47.20" cy="1693.10" r="16.70" fill="#f39221"/><g transform="rotate(14 47.20 1693.10)"><text x="47.64" y="1699.71" font-size="19.27" font-weight="700" fill="#fff" text-anchor="middle">B</text><path d="M44.78 1686.49 v-2.86 M48.52 1686.49 v-2.86 M44.78 1699.71 v2.86 M48.52 1699.71 v2.86" stroke="#fff" stroke-width="1.65" fill="none"/></g></g>
</svg>
</body></html>
